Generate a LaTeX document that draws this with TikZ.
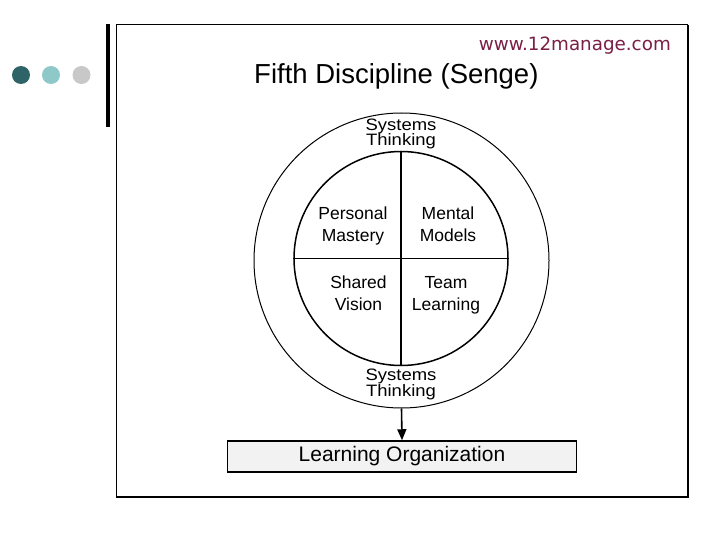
\documentclass[tikz,border=0pt]{standalone}
\usepackage{fontspec}
\setmainfont{Liberation Sans}
\newfontfamily\urlfont{DejaVu Sans}
\newfontfamily\widefont[FakeStretch=1.12]{Liberation Sans}
\usetikzlibrary{arrows.meta}
\definecolor{dotdark}{HTML}{2E6467}
\definecolor{dotlight}{HTML}{8FC8C8}
\definecolor{dotgray}{HTML}{C8C8C8}
\definecolor{urlred}{HTML}{7A1F45}
\definecolor{boxfill}{HTML}{F2F2F2}
\tikzset{
  dot/.style={circle,inner sep=0pt,minimum size=18pt},
  quad/.style={align=center,inner sep=0pt,anchor=base,font=\fontsize{17.5}{22}\selectfont},
  systxt/.style={align=center,inner sep=0pt,anchor=base,font=\widefont\fontsize{16.5}{15.8}\selectfont},
  ring/.style={circle,draw,inner sep=0pt},
}
\begin{document}
\begin{tikzpicture}[x=1pt,y=-1pt]
\useasboundingbox[fill=white] (0,0) rectangle (720,540);
% decoration
\node[dot,fill=dotdark] (d1) at (21,75) {};
\node[dot,fill=dotlight] (d2) at (51,75) {};
\node[dot,fill=dotgray] (d3) at (81.5,75) {};
\fill[black] (106,24) rectangle (110,127);
% frame
\draw[line width=1pt] (116,497) -- (116,25) -- (688,25);
\draw[line width=2pt] (688,25) -- (688,497) -- (116,497);
% texts
\node[anchor=base east,inner sep=0pt,text=urlred,font=\urlfont\fontsize{18.3}{20}\selectfont] (url) at (671,51) {www.12manage.com};
\node[anchor=base west,inner sep=0pt,font=\fontsize{27.5}{30}\selectfont] (title) at (254,83.5) {Fifth Discipline (Senge)};
% circles
\node[ring,line width=1pt,minimum size=295pt] (outer) at (401.5,260.5) {};
\node[ring,line width=1.5pt,minimum size=214pt] (inner) at (401,258.5) {};
\draw[line width=1.6pt] (inner.north) -- (inner.south);
\draw[line width=1.6pt] (inner.west) -- (inner.east);
\node[quad] (pm) at (353,241) {Personal\\Mastery};
\node[quad] (mm) at (448,241) {Mental\\Models};
\node[quad] (sv) at (358.5,310) {Shared\\Vision};
\node[quad] (tl) at (446,310) {Team\\Learning};
\node[systxt] (st1) at (401,146) {Systems\\Thinking};
\node[systxt] (st2) at (401,396.5) {Systems\\Thinking};
% box
\node[draw,line width=1.5pt,fill=boxfill,minimum width=349pt,minimum height=31pt,inner sep=0pt,font=\fontsize{21}{24}\selectfont] (lo) at (402,456.5) {Learning Organization};
\draw[line width=1.6pt,-{Triangle[width=9pt,length=11pt]}] (outer.south) -- (lo.north);
\end{tikzpicture}
\end{document}
